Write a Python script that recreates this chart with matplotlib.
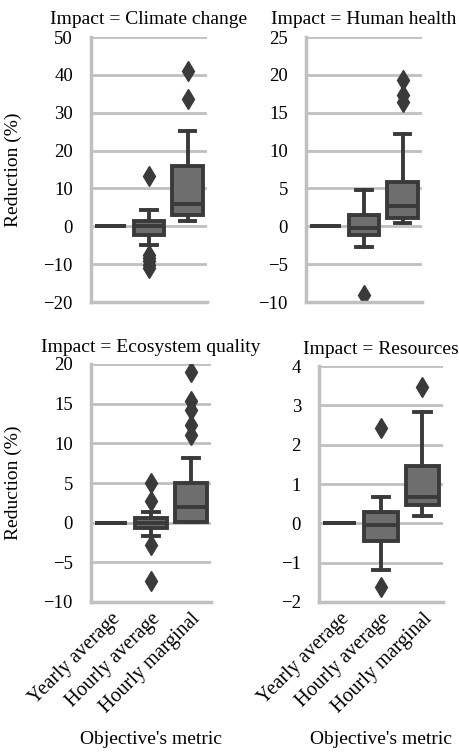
import matplotlib
matplotlib.use("Agg")
import matplotlib.pyplot as plt

plt.rcParams['font.family'] = ['Liberation Serif', 'DejaVu Serif']

metrics = ['Yearly average', 'Hourly average', 'Hourly marginal']
impacts = ['Climate change', 'Human health', 'Ecosystem quality', 'Resources']

# box stats per impact, one entry per metric: q1, median, q3, lower whisker, upper whisker
q1 = {
    'Climate change':    [0, -2.2, 2.9],
    'Human health':      [0, -1.1, 1.1],
    'Ecosystem quality': [0, -0.7, 0.1],
    'Resources':         [0, -0.46, 0.47],
}
med = {
    'Climate change':    [0, 0.0, 6.0],
    'Human health':      [0, -0.2, 2.7],
    'Ecosystem quality': [0, -0.1, 2.0],
    'Resources':         [0, -0.05, 0.68],
}
q3 = {
    'Climate change':    [0, 1.4, 15.9],
    'Human health':      [0, 1.5, 5.8],
    'Ecosystem quality': [0, 0.55, 5.0],
    'Resources':         [0, 0.28, 1.47],
}
wlo = {
    'Climate change':    [0, -5.0, 1.4],
    'Human health':      [0, -2.8, 0.4],
    'Ecosystem quality': [0, -1.7, 0.1],
    'Resources':         [0, -1.18, 0.19],
}
whi = {
    'Climate change':    [0, 4.4, 25.2],
    'Human health':      [0, 4.8, 12.2],
    'Ecosystem quality': [0, 1.4, 8.2],
    'Resources':         [0, 0.68, 2.84],
}
fliers = {
    'Climate change':    [[], [13.4, -7.5, -8.5, -9.3, -10.2, -11.0], [41.0, 33.6]],
    'Human health':      [[], [-9.1], [19.3, 17.3, 16.4]],
    'Ecosystem quality': [[], [5.0, 2.7, -2.8, -7.4], [19.0, 15.3, 14.2, 12.3, 11.0]],
    'Resources':         [[], [2.42, -1.63], [3.46]],
}
ylims = {
    'Climate change':    (-20, 50, 10),
    'Human health':      (-10, 25, 5),
    'Ecosystem quality': (-10, 20, 5),
    'Resources':         (-2, 4, 1),
}

W, H = 459, 755
fig = plt.figure(figsize=(W / 100, H / 100), dpi=100)

# axes boxes in pixels: left, right, top, bottom
boxes = {
    'Climate change':    (91, 207, 37, 302),
    'Human health':      (306, 422, 37, 302),
    'Ecosystem quality': (91, 211, 364, 602),
    'Resources':         (319, 443, 366, 602),
}

dark = '#3a3a3a'
fill = '#6e6e6e'
light = '#c0c0c0'

for i, imp in enumerate(impacts):
    l, r, t, b = boxes[imp]
    ax = fig.add_axes([l / W, 1 - b / H, (r - l) / W, (b - t) / H])
    stats = []
    for j in range(3):
        stats.append(dict(q1=q1[imp][j], med=med[imp][j], q3=q3[imp][j],
                          whislo=wlo[imp][j], whishi=whi[imp][j],
                          fliers=fliers[imp][j]))
    ax.bxp(stats, positions=[0, 1, 2], widths=0.8, patch_artist=True,
           boxprops=dict(facecolor=fill, edgecolor=dark, linewidth=2.8),
           whiskerprops=dict(color=dark, linewidth=2.8),
           capprops=dict(color=dark, linewidth=2.8),
           medianprops=dict(color=dark, linewidth=2.8),
           flierprops=dict(marker='d', markerfacecolor=dark, markeredgecolor=dark,
                           markersize=10))
    lo, hi, step = ylims[imp]
    ax.set_ylim(lo, hi)
    ax.set_yticks(range(lo, hi + 1, step))
    ax.set_xlim(-0.5, 2.5)
    ax.yaxis.grid(True, color=light, linewidth=2)
    ax.set_axisbelow(True)
    for s in ['top', 'right']:
        ax.spines[s].set_visible(False)
    for s in ['left', 'bottom']:
        ax.spines[s].set_color(light)
        ax.spines[s].set_linewidth(2.5)
    ax.tick_params(axis='y', length=0, labelsize=13.5, pad=13)
    ax.tick_params(axis='x', length=0, labelsize=14.5, pad=5)
    ax.set_title('Impact = ' + imp, fontsize=14, pad=9)
    ax.set_xticks([0, 1, 2])
    if i >= 2:
        ax.set_xticklabels(metrics, rotation=45, ha='right', rotation_mode='anchor')
        ax.set_xlabel("Objective's metric", fontsize=14)
        ax.xaxis.set_label_coords(0.5, -(731 - b) / (b - t))
    else:
        ax.set_xticklabels([])
    if i % 2 == 0:
        ax.set_ylabel('Reduction (%)', fontsize=14)
        ax.yaxis.set_label_coords(-(l - 22) / (r - l), 0.5)

fig.savefig('out.png', dpi=100)
